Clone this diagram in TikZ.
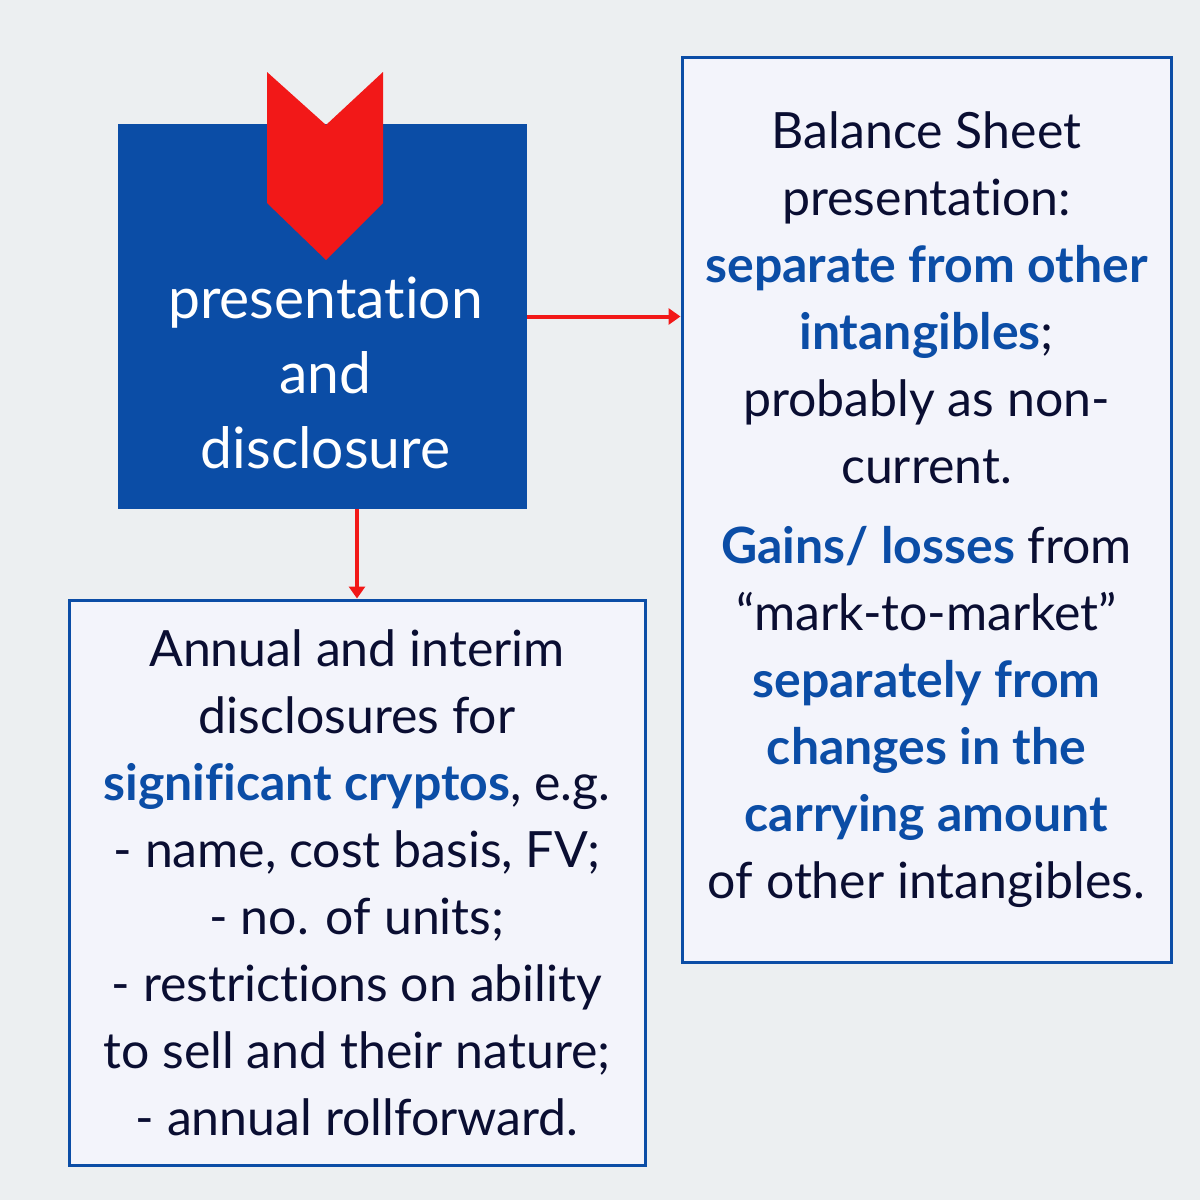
\documentclass[tikz,border=0pt]{standalone}
\usepackage{fontspec}
\setmainfont{Lato}[Ligatures={NoCommon}]
\usepackage{tikz}
\usetikzlibrary{arrows.meta,positioning,calc}
\definecolor{pagebg}{RGB}{236,239,241}
\definecolor{boxbg}{RGB}{243,244,251}
\definecolor{accent}{RGB}{11,77,166}
\definecolor{alarm}{RGB}{242,24,24}
\definecolor{ink}{RGB}{10,14,50}
\newcommand{\hl}[1]{\textcolor{accent}{\textbf{#1}}}

\begin{document}
\begin{tikzpicture}[x=0.5pt,y=-0.5pt,
  panel/.style={draw=accent,line width=1.5pt,fill=boxbg,inner sep=0pt,text=ink,align=center,
    font=\fontsize{25}{33.5}\selectfont},
  topic/.style={fill=accent,inner sep=0pt,minimum width=204.5pt,minimum height=192.5pt},
  topictext/.style={text=white,align=center,font=\fontsize{28.5}{37.5}\selectfont},
  arr/.style={-{Triangle[length=6pt,width=8pt]},line width=2pt,alarm}]
  \fill[pagebg] (0,0) rectangle (1200,1200);
  \node[topic] (main) at (322.5,316.5) {};
  \fill[alarm] (267,72) -- (326,125) -- (383,72) -- (383,203) -- (326,260) -- (267,203) -- cycle;
  \node[topictext] (maintxt) at ($(main.center)+(3,56)$) {presentation\\and\\disclosure};
  \node[panel,minimum width=244.5pt,minimum height=452.5pt] (sheet) at (926.5,509.5)
    {Balance Sheet\\presentation:\\\hl{separate from other}\\\hl{intangibles};\\probably as non-\\current.\\[6.5pt]
     \hl{Gains/ losses} from\\“mark-to-market”\\\hl{separately from}\\\hl{changes in the}\\\hl{carrying amount}\\of other intangibles.};
  \node[panel,minimum width=288pt,minimum height=282.5pt] (disc) at (357,882.5)
    {Annual and interim\\disclosures for\\\hl{significant cryptos}, e.g.\\- name, cost basis, FV;\\- no. of units;\\- restrictions on ability\\to sell and their nature;\\- annual rollforward.};
  \draw[arr] (main.east) -- (main.east -| sheet.west);
  \draw[arr] (main.south -| disc.north) -- (disc.north);
\end{tikzpicture}
\end{document}
